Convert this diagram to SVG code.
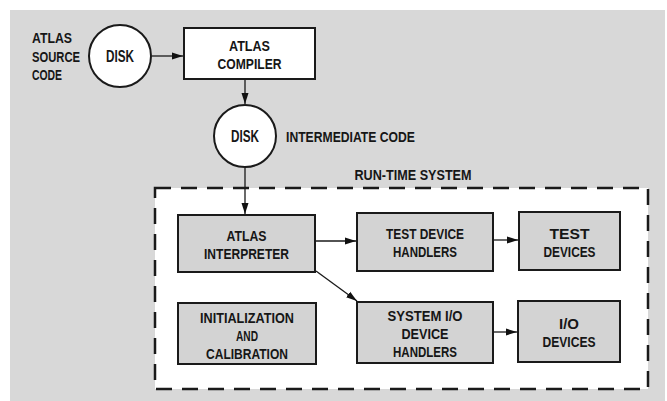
<svg xmlns="http://www.w3.org/2000/svg" width="667" height="401" viewBox="0 0 667 401">
<defs>
<marker id="ah" markerWidth="12" markerHeight="8" refX="11" refY="4" orient="auto" markerUnits="userSpaceOnUse">
<path d="M0,0.5 L11,4 L0,7.5 Z" fill="#111"/>
</marker>
<style>
text{font-family:"Liberation Sans",Arial,sans-serif;font-weight:bold;font-size:15px;fill:#161616}
.c{text-anchor:middle}
.box{fill:#d3d3d3;stroke:#1a1a1a;stroke-width:2}
.disk{fill:#fff;stroke:#1a1a1a;stroke-width:2}
.conn{stroke:#1a1a1a;stroke-width:1.3;fill:none;marker-end:url(#ah)}
</style>
</defs>
<rect x="0" y="0" width="667" height="401" fill="#fff"/>
<rect x="10" y="10" width="655" height="391" fill="#d8d8d8"/>
<g id="runtime">
<rect x="155" y="188" width="493" height="201" fill="#fff" stroke="#1a1a1a" stroke-width="2.5" stroke-dasharray="16,10"/>
<text class="c" x="413" y="180" textLength="117" lengthAdjust="spacingAndGlyphs">RUN-TIME SYSTEM</text>
</g>
<g id="source-label"><text x="32" y="43" textLength="40" lengthAdjust="spacingAndGlyphs">ATLAS</text><text x="32" y="62" textLength="48" lengthAdjust="spacingAndGlyphs">SOURCE</text><text x="32" y="80" textLength="30" lengthAdjust="spacingAndGlyphs">CODE</text></g>
<g id="disk1"><circle class="disk" cx="120" cy="56" r="31"/><text class="c" x="120" y="61.5" style="font-size:16px" textLength="28" lengthAdjust="spacingAndGlyphs">DISK</text></g>
<g id="compiler"><rect class="box" x="184" y="28" width="131" height="51" style="fill:#fff"/><text class="c" x="249.5" y="50.5" textLength="41" lengthAdjust="spacingAndGlyphs">ATLAS</text><text class="c" x="249.5" y="68.5" textLength="64" lengthAdjust="spacingAndGlyphs">COMPILER</text></g>
<g id="disk2"><circle class="disk" cx="245" cy="136" r="31"/><text class="c" x="245" y="141.5" style="font-size:16px" textLength="28" lengthAdjust="spacingAndGlyphs">DISK</text></g>
<g id="intermediate-label"><text x="286" y="141.5" textLength="129" lengthAdjust="spacingAndGlyphs">INTERMEDIATE CODE</text></g>
<g id="interpreter"><rect class="box" x="178" y="215" width="137" height="57"/><text class="c" x="246.5" y="240.5" textLength="40" lengthAdjust="spacingAndGlyphs">ATLAS</text><text class="c" x="246.5" y="258.5" textLength="85" lengthAdjust="spacingAndGlyphs">INTERPRETER</text></g>
<g id="test-handlers"><rect class="box" x="357" y="213" width="136" height="58"/><text class="c" x="425" y="238.5" textLength="78" lengthAdjust="spacingAndGlyphs">TEST DEVICE</text><text class="c" x="425" y="256.5" textLength="64" lengthAdjust="spacingAndGlyphs">HANDLERS</text></g>
<g id="test-devices"><rect class="box" x="519" y="212" width="101" height="58"/><text class="c" x="569.5" y="238.5" textLength="40" lengthAdjust="spacingAndGlyphs">TEST</text><text class="c" x="569.5" y="256.5" textLength="52" lengthAdjust="spacingAndGlyphs">DEVICES</text></g>
<g id="init"><rect class="box" x="178" y="303" width="138" height="61"/><text class="c" x="247" y="322.5" textLength="94" lengthAdjust="spacingAndGlyphs">INITIALIZATION</text><text class="c" x="247" y="340.5" textLength="22" lengthAdjust="spacingAndGlyphs">AND</text><text class="c" x="247" y="358.5" textLength="82" lengthAdjust="spacingAndGlyphs">CALIBRATION</text></g>
<g id="sysio-handlers"><rect class="box" x="357" y="302" width="136" height="61"/><text class="c" x="425" y="320.5" textLength="75" lengthAdjust="spacingAndGlyphs">SYSTEM I/O</text><text class="c" x="425" y="338.5" textLength="47" lengthAdjust="spacingAndGlyphs">DEVICE</text><text class="c" x="425" y="356.5" textLength="64" lengthAdjust="spacingAndGlyphs">HANDLERS</text></g>
<g id="io-devices"><rect class="box" x="518" y="301" width="102" height="61"/><text class="c" x="569" y="328.5" textLength="20" lengthAdjust="spacingAndGlyphs">I/O</text><text class="c" x="569" y="346.5" textLength="53" lengthAdjust="spacingAndGlyphs">DEVICES</text></g>
<g id="connectors">
<line class="conn" x1="152" y1="56" x2="183" y2="56"/>
<line class="conn" x1="245" y1="80" x2="245" y2="104"/>
<line class="conn" x1="245" y1="168" x2="245" y2="214"/>
<line class="conn" x1="316" y1="241" x2="356" y2="241"/>
<line class="conn" x1="494" y1="240" x2="518" y2="240"/>
<line class="conn" x1="316" y1="271" x2="357" y2="301"/>
<line class="conn" x1="494" y1="332" x2="517" y2="332"/>
</g>
</svg>
